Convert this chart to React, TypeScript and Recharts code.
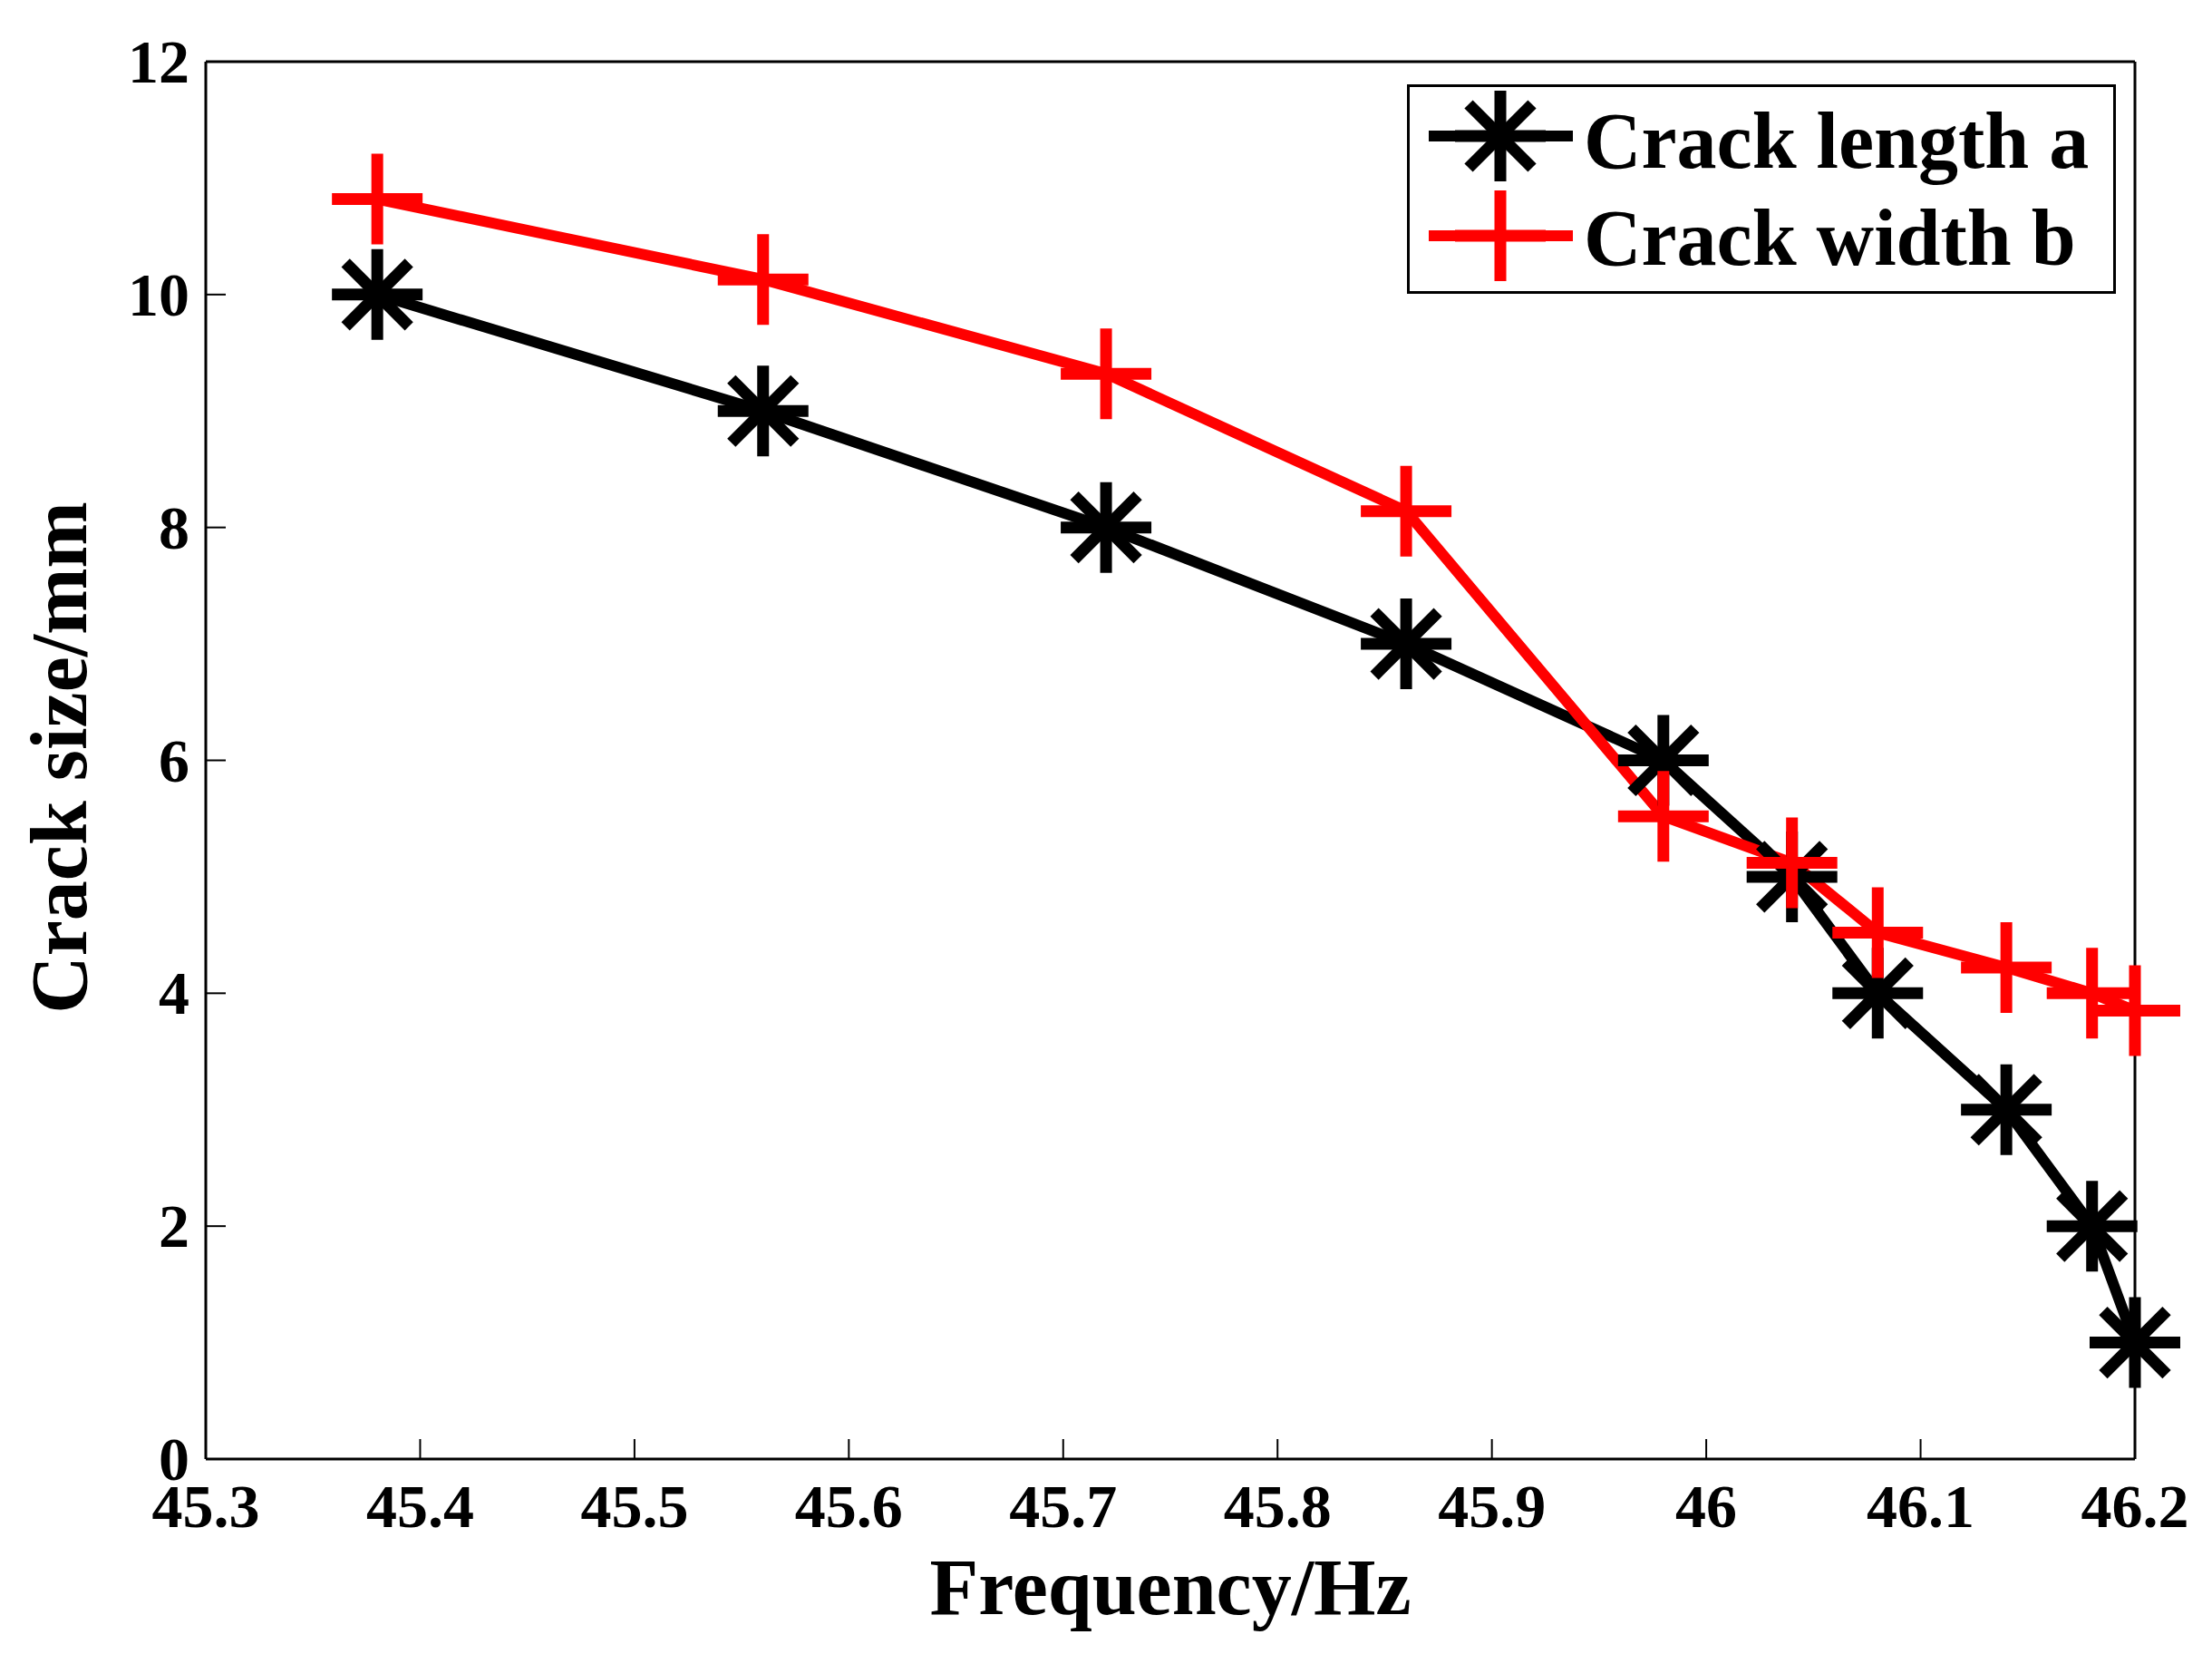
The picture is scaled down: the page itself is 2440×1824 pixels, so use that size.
import React from "react";
import {
  LineChart,
  Line,
  XAxis,
  YAxis,
  Legend,
} from "recharts";

// frequency (Hz) shared by both series
const freq = [45.38, 45.56, 45.72, 45.86, 45.98, 46.04, 46.08, 46.14, 46.18, 46.2];
const crackLength = [10, 9, 8, 7, 6, 5, 4, 3, 2, 1];
const crackWidth = [10.82, 10.13, 9.32, 8.14, 5.52, 5.12, 4.52, 4.22, 4.0, 3.85];

const xTicks = [45.3, 45.4, 45.5, 45.6, 45.7, 45.8, 45.9, 46, 46.1, 46.2];
const yTicks = [0, 2, 4, 6, 8, 10, 12];

const seriesNames = { a: "Crack length a", b: "Crack width b" };

const data = freq.map((x, i) => ({ x, a: crackLength[i], b: crackWidth[i] }));

const FONT = "'Liberation Serif', 'Times New Roman', serif";
const RED = "#ff0000";
const TICK_LEN = 22;
const MARK = 50;
const SW = 12;

function Asterisk({ cx, cy, color, r = MARK }: any) {
  const d = r * 0.7;
  return (
    <g stroke={color} strokeWidth={SW + 1} strokeLinecap="butt">
      <line x1={cx - r} y1={cy} x2={cx + r} y2={cy} />
      <line x1={cx} y1={cy - r} x2={cx} y2={cy + r} />
      <line x1={cx - d} y1={cy - d} x2={cx + d} y2={cy + d} />
      <line x1={cx - d} y1={cy + d} x2={cx + d} y2={cy - d} />
    </g>
  );
}

function Plus({ cx, cy, color, r = MARK }: any) {
  return (
    <g stroke={color} strokeWidth={SW + 1} strokeLinecap="butt">
      <line x1={cx - r} y1={cy} x2={cx + r} y2={cy} />
      <line x1={cx} y1={cy - r} x2={cx} y2={cy + r} />
    </g>
  );
}

const BottomTick = ({ x, y, payload }: any) => (
  <g>
    <line x1={x} y1={y} x2={x} y2={y - TICK_LEN} stroke="#000" strokeWidth={2} />
    <text
      x={x}
      y={y + 75}
      textAnchor="middle"
      fontFamily={FONT}
      fontWeight="bold"
      fontSize={68}
      fill="#000"
    >
      {String(payload.value)}
    </text>
  </g>
);

const LeftTick = ({ x, y, payload }: any) => (
  <g>
    <line x1={x} y1={y} x2={x + TICK_LEN} y2={y} stroke="#000" strokeWidth={2} />
    <text
      x={x - 18}
      y={y + 23}
      textAnchor="end"
      fontFamily={FONT}
      fontWeight="bold"
      fontSize={68}
      fill="#000"
    >
      {String(payload.value)}
    </text>
  </g>
);

const TopTick = ({ x, y }: any) => (
  <line x1={x} y1={y} x2={x} y2={y + TICK_LEN} stroke="#000" strokeWidth={2} />
);

const RightTick = ({ x, y }: any) => (
  <line x1={x} y1={y} x2={x - TICK_LEN} y2={y} stroke="#000" strokeWidth={2} />
);

function LegendBox({ payload }: any) {
  const items = (payload || []).filter((p: any) => p.dataKey === "a" || p.dataKey === "b");
  const rows = [
    { key: "a", cy: 57, base: 92 },
    { key: "b", cy: 167, base: 199 },
  ];
  return (
    <svg width={782} height={231} style={{ display: "block" }}>
      <rect x={1.5} y={1.5} width={779} height={228} fill="#fff" stroke="#000" strokeWidth={3} />
      {rows.map((r) => {
        const item = items.find((p: any) => p.dataKey === r.key);
        const color = item ? item.color : "#000";
        const label = item ? item.value : seriesNames[r.key as "a" | "b"];
        return (
          <g key={r.key}>
            <line x1={24} y1={r.cy} x2={183} y2={r.cy} stroke={color} strokeWidth={SW} />
            {r.key === "a" ? (
              <Asterisk cx={103} cy={r.cy} color={color} />
            ) : (
              <Plus cx={103} cy={r.cy} color={color} />
            )}
            <text
              x={195}
              y={r.base}
              fontFamily={FONT}
              fontWeight="bold"
              fontSize={88}
              fill="#000"
            >
              {label}
            </text>
          </g>
        );
      })}
    </svg>
  );
}

export default function App() {
  return (
    <div style={{ width: 2440, height: 1824, background: "#fff" }}>
      <style>{"body{margin:0;background:#fff}"}</style>
      <LineChart
        width={2440}
        height={1824}
        data={data}
        margin={{ top: 58, right: 75, bottom: 15, left: 77 }}
      >
        <XAxis
          dataKey="x"
          type="number"
          domain={[45.3, 46.2]}
          ticks={xTicks}
          height={200}
          tickSize={0}
          tickMargin={0}
          tickLine={false}
          tick={<BottomTick />}
          axisLine={{ stroke: "#000", strokeWidth: 3 }}
          interval={0}
          label={{
            content: ({ viewBox }: any) => (
              <text
                x={viewBox.x + viewBox.width / 2}
                y={viewBox.y + 171}
                textAnchor="middle"
                fontFamily={FONT}
                fontWeight="bold"
                fontSize={88}
                fill="#000"
              >
                Frequency/Hz
              </text>
            ),
          }}
        />
        <XAxis
          xAxisId="top"
          orientation="top"
          type="number"
          domain={[45.3, 46.2]}
          ticks={xTicks}
          height={10}
          tickSize={0}
          tickMargin={0}
          tickLine={false}
          tick={<TopTick />}
          axisLine={{ stroke: "#000", strokeWidth: 3 }}
          interval={0}
        />
        <YAxis
          type="number"
          domain={[0, 12]}
          ticks={yTicks}
          width={150}
          tickSize={0}
          tickMargin={0}
          tickLine={false}
          tick={<LeftTick />}
          axisLine={{ stroke: "#000", strokeWidth: 3 }}
          interval={0}
          label={{
            content: ({ viewBox }: any) => {
              const cx = 95;
              const cy = viewBox.y + viewBox.height / 2 - 3;
              return (
                <text
                  x={cx}
                  y={cy}
                  transform={`rotate(-90 ${cx} ${cy})`}
                  textAnchor="middle"
                  fontFamily={FONT}
                  fontWeight="bold"
                  fontSize={88}
                  fill="#000"
                >
                  Crack size/mm
                </text>
              );
            },
          }}
        />
        <YAxis
          yAxisId="right"
          orientation="right"
          type="number"
          domain={[0, 12]}
          ticks={yTicks}
          width={10}
          tickSize={0}
          tickMargin={0}
          tickLine={false}
          tick={<RightTick />}
          axisLine={{ stroke: "#000", strokeWidth: 3 }}
          interval={0}
        />
        <Line
          dataKey="a"
          name={seriesNames.a}
          type="linear"
          stroke="#000"
          strokeWidth={SW}
          isAnimationActive={false}
          dot={(p: any) => <Asterisk key={`a-${p.index}`} cx={p.cx} cy={p.cy} color="#000" />}
          activeDot={false}
        />
        <Line
          dataKey="b"
          name={seriesNames.b}
          type="linear"
          stroke={RED}
          strokeWidth={SW}
          isAnimationActive={false}
          dot={(p: any) => <Plus key={`b-${p.index}`} cx={p.cx} cy={p.cy} color={RED} />}
          activeDot={false}
        />
        <Legend
          layout="vertical"
          align="center"
          verticalAlign="middle"
          wrapperStyle={{ position: "absolute", left: 1552, top: 93, width: 782, height: 231 }}
          content={<LegendBox />}
        />
      </LineChart>
    </div>
  );
}
